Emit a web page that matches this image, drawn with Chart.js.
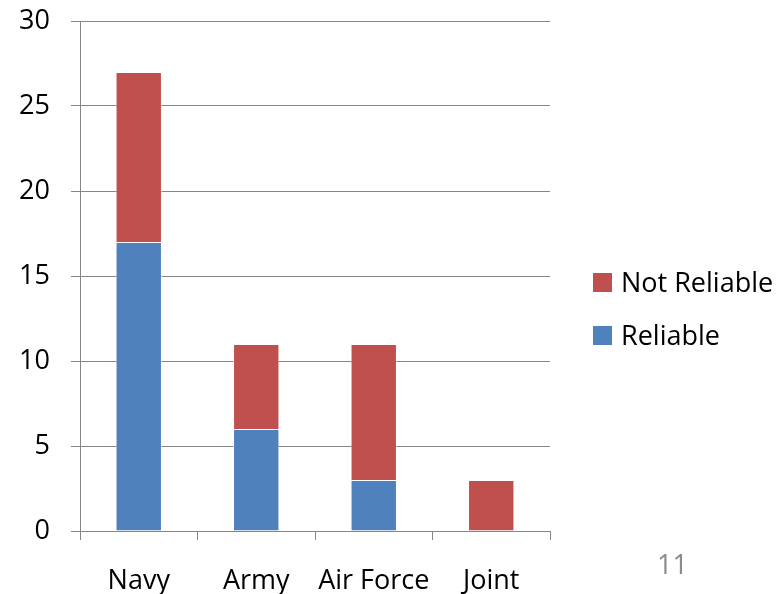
<!DOCTYPE html>
<html>
<head>
<meta charset="utf-8">
<script src="https://cdn.jsdelivr.net/npm/chart.js@4/dist/chart.umd.min.js"></script>
<style>
  html, body { margin: 0; padding: 0; background: #fff; }
  #wrap { position: relative; width: 782px; height: 594px; }
  #chart { position: absolute; left: 0; top: 0; }
  .legend { position: absolute; left: 593px; font-family: "Open Sans", sans-serif; font-size: 27px; color: #000; white-space: nowrap; }
  .legend .item { position: absolute; left: 0; height: 30px; line-height: 30px; }
  .legend .sw { position: absolute; left: 0; top: 6px; width: 19px; height: 19px; }
  .legend .tx { position: absolute; left: 28px; top: 0; }
  #page { position: absolute; left: 657px; top: 545px; font-family: "Open Sans", sans-serif; font-size: 27px; color: #8c8c8c; }
</style>
</head>
<body>
<div id="wrap">
  <canvas id="chart" width="782" height="594"></canvas>
  <div class="legend" id="legend"></div>
  <div id="page">11</div>
</div>
<script>
// Branch categories and counts of assessments
const categories = ["Navy", "Army", "Air Force", "Joint"];
const reliable = [17, 6, 3, 0];
const notReliable = [10, 5, 8, 3];
const yTicks = [0, 5, 10, 15, 20, 25, 30];

const seriesNames = ["Reliable", "Not Reliable"];
const seriesColors = ["#4F81BD", "#C0504D"];

const axisGray = "#868686";
const font = { family: "'Open Sans', sans-serif", size: 27 };

const chart = new Chart(document.getElementById("chart"), {
  type: "bar",
  data: {
    labels: categories,
    datasets: [
      { label: seriesNames[0], data: reliable, backgroundColor: seriesColors[0],
        borderColor: "rgba(255,255,255,0.5)", borderWidth: 1 },
      { label: seriesNames[1], data: notReliable, backgroundColor: seriesColors[1],
        borderColor: "rgba(255,255,255,0.5)", borderWidth: 1 }
    ]
  },
  options: {
    responsive: false,
    animation: false,
    devicePixelRatio: 1,
    layout: { padding: { left: 0, right: 232, top: 21, bottom: 0 } },
    plugins: { legend: { display: false }, tooltip: { enabled: false } },
    datasets: { bar: { categoryPercentage: 1, barPercentage: 0.395 } },
    scales: {
      x: {
        stacked: true,
        offset: true,
        grid: { drawOnChartArea: false, offset: true, color: axisGray, tickLength: 9, lineWidth: 1 },
        border: { color: axisGray, width: 1 },
        ticks: { color: "#000", font: font, padding: 25, maxRotation: 0 },
        afterFit: s => { s.height = 63; }
      },
      y: {
        stacked: true,
        min: yTicks[0],
        max: yTicks[yTicks.length - 1],
        afterBuildTicks: s => { s.ticks = yTicks.map(v => ({ value: v })); },
        grid: { color: axisGray, tickLength: 9, lineWidth: 1 },
        border: { color: axisGray, width: 1 },
        ticks: { color: "#000", font: font, padding: 21 },
        afterFit: s => { s.width = 80; s.paddingTop = 0; s.paddingBottom = 0; }
      }
    }
  }
});

// Legend listed top-down in stacking order (top segment first)
const legend = document.getElementById("legend");
const legendTops = [267, 320];
chart.data.datasets.slice().reverse().forEach((ds, i) => {
  const item = document.createElement("div");
  item.className = "item";
  item.style.top = legendTops[i] + "px";
  const sw = document.createElement("div");
  sw.className = "sw";
  sw.style.background = ds.backgroundColor;
  const tx = document.createElement("div");
  tx.className = "tx";
  tx.textContent = ds.label;
  item.appendChild(sw);
  item.appendChild(tx);
  legend.appendChild(item);
});
</script>
</body>
</html>
